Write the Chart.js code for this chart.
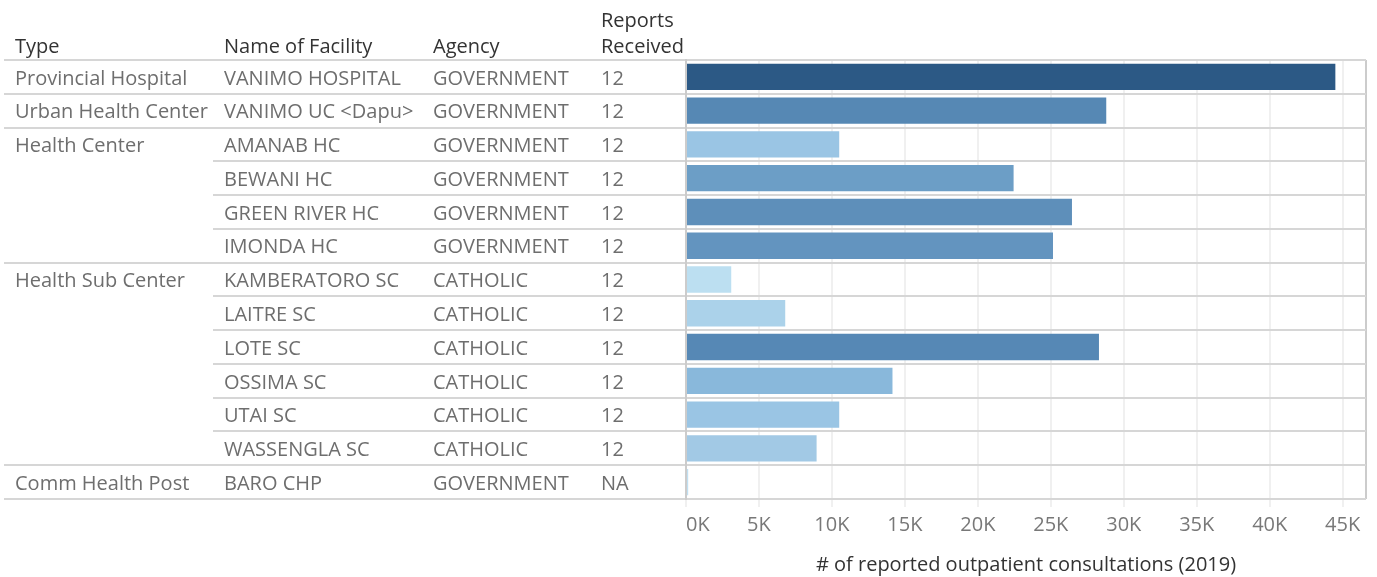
<!DOCTYPE html>
<html>
<head>
<meta charset="utf-8">
<title>Outpatient consultations by facility (2019)</title>
<script src="https://cdn.jsdelivr.net/npm/chart.js@4.4.1/dist/chart.umd.min.js"></script>
<style>
  html, body { margin: 0; padding: 0; background: #ffffff; }
  #wrap { width: 1377px; height: 577px; }
</style>
</head>
<body>
<div id="wrap"><canvas id="chart" width="1377" height="577"></canvas></div>
<script>
// Facility table: one entry per row, top to bottom
const facilityTypes = ['Provincial Hospital', 'Urban Health Center', 'Health Center', '', '', '', 'Health Sub Center', '', '', '', '', '', 'Comm Health Post'];
const facilityNames = ['VANIMO HOSPITAL', 'VANIMO UC <Dapu>', 'AMANAB HC', 'BEWANI HC', 'GREEN RIVER HC', 'IMONDA HC', 'KAMBERATORO SC', 'LAITRE SC', 'LOTE SC', 'OSSIMA SC', 'UTAI SC', 'WASSENGLA SC', 'BARO CHP'];
const agencies = ['GOVERNMENT', 'GOVERNMENT', 'GOVERNMENT', 'GOVERNMENT', 'GOVERNMENT', 'GOVERNMENT', 'CATHOLIC', 'CATHOLIC', 'CATHOLIC', 'CATHOLIC', 'CATHOLIC', 'CATHOLIC', 'GOVERNMENT'];
const reportsReceived = ['12', '12', '12', '12', '12', '12', '12', '12', '12', '12', '12', '12', 'NA'];
const outpatientConsultations = [44500, 28800, 10500, 22450, 26450, 25150, 3100, 6800, 28300, 14150, 10500, 8950, 150];

// Column headers and axis text
const columnHeaders = { type: ['Type'], name: ['Name of Facility'], agency: ['Agency'], reports: ['Reports', 'Received'] };
const xAxisTitle = '# of reported outpatient consultations (2019)';
const xTickValues = [0, 5000, 10000, 15000, 20000, 25000, 30000, 35000, 40000, 45000];
const xTickLabels = ['0K', '5K', '10K', '15K', '20K', '25K', '30K', '35K', '40K', '45K'];
const xAxisMax = 46600;

// Sequential blue fill, darker for larger totals
const barColors = ['#2c5985', '#5688b4', '#9ac5e4', '#6c9ec6', '#5e8fba', '#6394bf', '#bcdff1', '#abd2ea', '#5688b5', '#89b8db', '#9ac5e4', '#a2c9e5', '#c0e0f2'];

const FONT = "'Open Sans', sans-serif";
const BODY_SIZE = 20;
const ROW_LINE = '#d6d6d6';
const CELL_PAD = 11;
const CLEAR = 'rgba(0,0,0,0)';

// A row in the Type column starts a new group when it carries a label
const groupStarts = facilityTypes.map((t, i) => (t !== '' ? i : -1)).filter(i => i >= 0);

// Builds one left-hand table column as a category axis
function tableColumn(labels, width, weight, opts = {}) {
  return {
    type: 'category',
    position: 'left',
    labels: labels,
    weight: weight,
    offset: true,
    afterFit(scale) { scale.width = width; },
    grid: {
      display: true,
      offset: true,
      drawOnChartArea: !!opts.onChartArea,
      drawTicks: true,
      tickLength: width + CELL_PAD,
      lineWidth: 2,
      tickWidth: 2,
      color: ROW_LINE,
      tickColor: opts.tickColor || ROW_LINE
    },
    border: opts.border || { display: false },
    ticks: {
      autoSkip: false,
      crossAlign: 'far',
      padding: 0,
      labelOffset: 2,
      color: '#6e6e6e',
      font: { family: FONT, size: BODY_SIZE }
    }
  };
}

// Column headers drawn above each table column
const headerPlugin = {
  id: 'columnHeaders',
  afterDraw(chart) {
    const ctx = chart.ctx;
    ctx.save();
    ctx.fillStyle = '#333333';
    ctx.font = BODY_SIZE + 'px ' + FONT;
    ctx.textAlign = 'left';
    ctx.textBaseline = 'alphabetic';
    const baseline = 53;
    const lineGap = 26.5;
    Object.keys(columnHeaders).forEach(id => {
      const scale = chart.scales[id];
      const lines = columnHeaders[id];
      lines.forEach((line, k) => {
        ctx.fillText(line, scale.left, baseline - (lines.length - 1 - k) * lineGap);
      });
    });
    ctx.restore();
  }
};

new Chart(document.getElementById('chart'), {
  type: 'bar',
  data: {
    labels: facilityNames,
    datasets: [{
      data: outpatientConsultations,
      backgroundColor: barColors,
      borderWidth: 0,
      barPercentage: 0.78,
      categoryPercentage: 1.0,
      yAxisID: 'name'
    }]
  },
  options: {
    indexAxis: 'y',
    responsive: false,
    devicePixelRatio: 1,
    animation: false,
    layout: { padding: { left: 15, right: 11, top: 60, bottom: 0 } },
    plugins: { legend: { display: false }, tooltip: { enabled: false } },
    scales: {
      x: {
        type: 'linear',
        position: 'bottom',
        min: 0,
        max: xAxisMax,
        afterFit(scale) { scale.height = 78; },
        // Fixed 5K ticks, plus one at the right edge that closes the plot frame
        afterBuildTicks(scale) {
          scale.ticks = xTickValues.map(v => ({ value: v })).concat([{ value: scale.max }]);
        },
        grid: {
          color: (c) => (c.tick && c.tick.value === xAxisMax ? '#cccccc' : '#f0f0f0'),
          tickColor: (c) => (c.tick && c.tick.value === xAxisMax ? CLEAR : '#f0f0f0'),
          lineWidth: 2,
          tickLength: 8
        },
        border: { display: false },
        ticks: {
          autoSkip: false,
          maxRotation: 0,
          align: 'inner',
          padding: 6,
          color: '#787878',
          font: { family: FONT, size: BODY_SIZE },
          callback: (v) => {
            const k = xTickValues.indexOf(v);
            return k >= 0 ? xTickLabels[k] : '';
          }
        },
        title: {
          display: true,
          text: xAxisTitle,
          color: '#333333',
          font: { family: FONT, size: BODY_SIZE },
          padding: { top: 0, bottom: 0 }
        }
      },
      type: tableColumn(facilityTypes, 209, 4, {
        tickColor: (c) => (c.index === undefined || groupStarts.includes(c.index) ? ROW_LINE : CLEAR)
      }),
      name: tableColumn(facilityNames, 209, 3),
      agency: tableColumn(agencies, 168, 2),
      reports: tableColumn(reportsReceived, 85, 1, {
        onChartArea: true,
        border: { display: true, color: '#cccccc', width: 2 }
      })
    }
  },
  plugins: [headerPlugin]
});
</script>
</body>
</html>
